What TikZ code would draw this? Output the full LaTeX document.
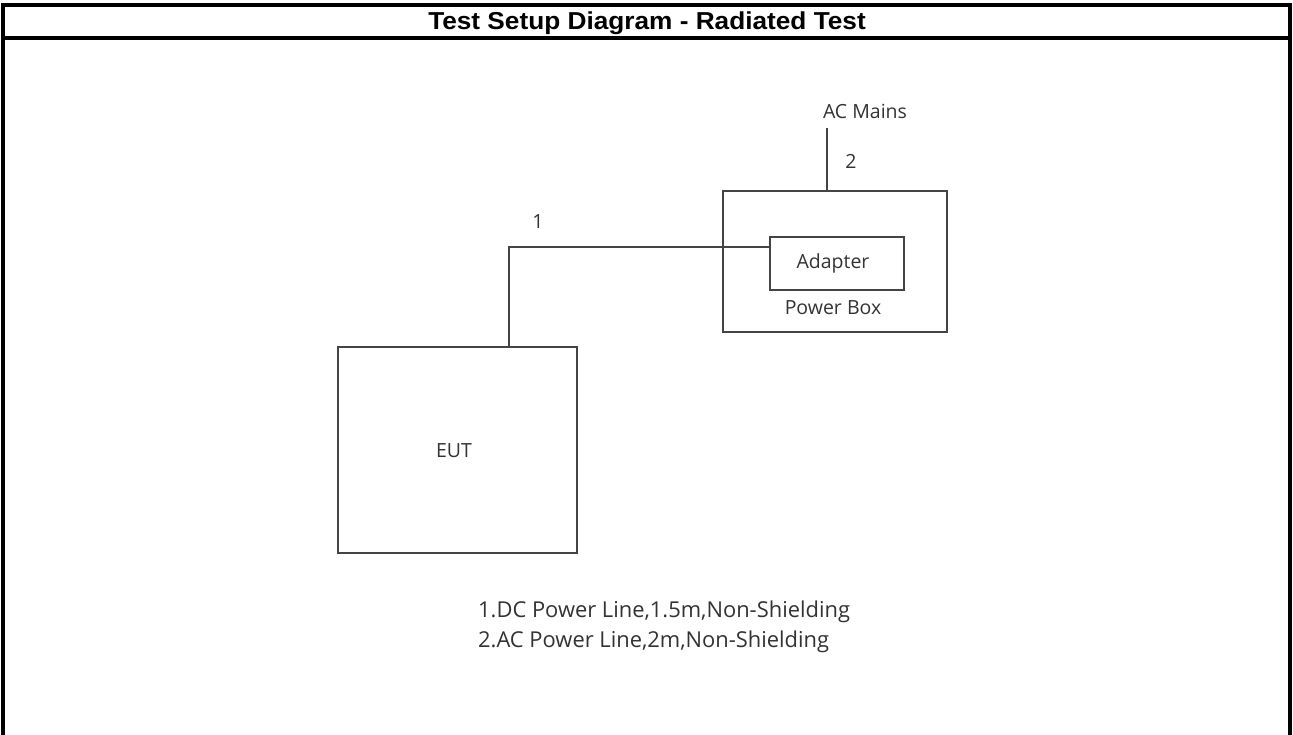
\documentclass[tikz,border=0pt]{standalone}
\usepackage{fontspec}
\setmainfont{Liberation Sans}
\newfontfamily\segoe{Open Sans}
\definecolor{lineg}{HTML}{444444}
\definecolor{textg}{HTML}{333333}
\begin{document}
\begin{tikzpicture}[x=1pt,y=-1pt,
  frame/.style={line width=3.5pt,black},
  wire/.style={line width=1.6pt,lineg},
  boxn/.style={draw=lineg,line width=1.6pt,inner sep=0pt,anchor=north west},
  lbl/.style={font=\segoe\fontsize{19.5}{23}\selectfont,text=textg,inner sep=0pt},
  leg/.style={font=\segoe\fontsize{21.9}{26}\selectfont,text=textg,inner sep=0pt,anchor=west},
  title/.style={font=\bfseries\fontsize{24.5}{28}\selectfont,inner sep=0pt,xscale=1.07}]
\useasboundingbox (0,0) rectangle (1293,735);
% frame
\draw[frame] (3,740) -- (3,5) -- (1290,5) -- (1290,740);
\draw[frame] (3,38) -- (1290,38);
\node[title] (t) at (647,23) {Test Setup Diagram - Radiated Test};
% boxes
\node[boxn,minimum width=224pt,minimum height=141pt] (pb) at (722,190) {};
\node[boxn,minimum width=134pt,minimum height=53pt] (ad) at (769,236) {};
\node[boxn,minimum width=239pt,minimum height=206pt] (eut) at (337,346) {};
\node[lbl] (adt) at (833,263) {Adapter};
\node[lbl] (pbt) at (833,308) {Power Box};
\node[lbl] (eutt) at (454,451) {EUT};
\node[lbl] (ac) at (865,111) {AC Mains};
\node[lbl] (n2) at (851,161) {2};
\node[lbl] (n1) at (538,222) {1};
\coordinate (acend) at (827,128);
\coordinate (bend) at (509,247);
% wires
\draw[wire] (acend) -- (acend |- pb.north);
\draw[wire] (eut.north -| bend) -- (bend) -- (bend -| ad.west);
% legend
\node[leg] (l1) at (478,612) {1.DC Power Line,1.5m,Non-Shielding};
\node[leg] (l2) at (478,642) {2.AC Power Line,2m,Non-Shielding};
\end{tikzpicture}
\end{document}
